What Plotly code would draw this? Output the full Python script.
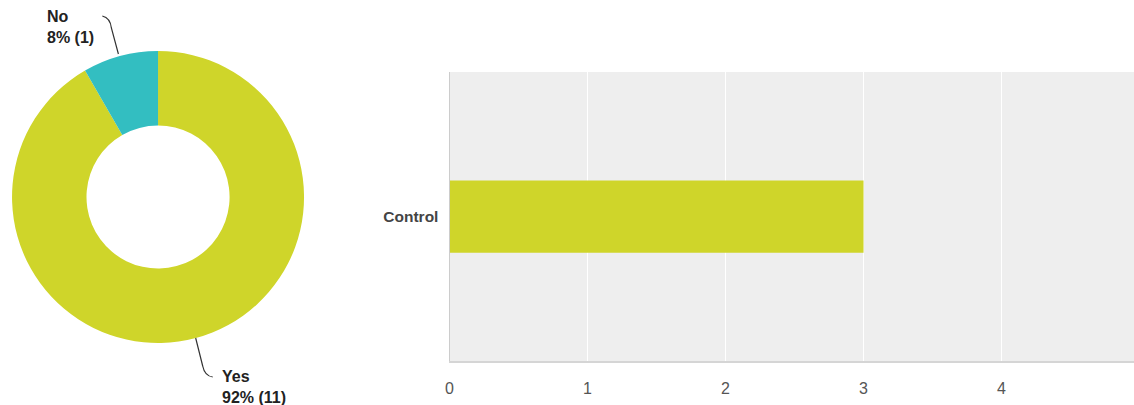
import plotly.graph_objects as go

# ---- data ----
pie_labels = ["Yes", "No"]
pie_counts = [11, 1]
pie_colors = ["#CFD52A", "#33BEC1"]

bar_categories = ["Control"]
bar_values = [3]
bar_color = "#CFD52A"
x_ticks = [0, 1, 2, 3, 4, 5]
x_max = 4.96

W, H = 1134, 405
FONT = "Arial, 'Liberation Sans', Helvetica, sans-serif"

# map target pixel positions to paper coordinates (compensates render offset)
def px(x):
    return ((x - 4) / 0.993) / W

def py(y):
    return 1 - y / H

fig = go.Figure()

fig.add_trace(go.Pie(
    labels=pie_labels,
    values=pie_counts,
    marker=dict(colors=pie_colors, line=dict(width=0)),
    hole=0.49,
    sort=False,
    direction="clockwise",
    rotation=0,
    textinfo="none",
    showlegend=False,
    domain=dict(x=[px(11.5), px(303.5)], y=[py(343), py(51)]),
))

fig.add_trace(go.Bar(
    y=bar_categories,
    x=bar_values,
    orientation="h",
    marker=dict(color=bar_color, line=dict(width=0)),
    showlegend=False,
    xaxis="x",
    yaxis="y",
))

total = sum(pie_counts)
pct = [round(100 * c / total) for c in pie_counts]
txt = {lab: f"<b>{lab}<br>{p}% ({c})</b>" for lab, p, c in zip(pie_labels, pct, pie_counts)}

fig.add_annotation(x=px(44.7), y=py(6), xref="paper", yref="paper", xanchor="left", yanchor="top",
                   text=txt["No"], showarrow=False, align="left",
                   font=dict(family=FONT, size=16, color="#222222"))
fig.add_annotation(x=px(219.7), y=py(365.5), xref="paper", yref="paper", xanchor="left", yanchor="top",
                   text=txt["Yes"], showarrow=False, align="left",
                   font=dict(family=FONT, size=16, color="#222222"))

# leader lines
fig.add_shape(type="path", xref="paper", yref="paper",
              path=f"M {px(102)},{py(16)} Q {px(110)},{py(18)} {px(111)},{py(28)} L {px(118)},{py(54)}",
              line=dict(color="#333333", width=1.2))
fig.add_shape(type="path", xref="paper", yref="paper",
              path=f"M {px(195)},{py(338)} L {px(202)},{py(366)} Q {px(204)},{py(376)} {px(212)},{py(377)}",
              line=dict(color="#333333", width=1.2))

fig.update_layout(
    width=W, height=H,
    margin=dict(l=0, r=0, t=0, b=0),
    paper_bgcolor="white",
    plot_bgcolor="#EEEEEE",
    bargap=0.75,
    font=dict(family=FONT),
    xaxis=dict(
        domain=[px(448), 1.0],
        range=[0, x_max],
        tickvals=x_ticks,
        showgrid=True, gridcolor="white", gridwidth=1,
        zeroline=False,
        showline=True, linecolor="#D5D5D5", linewidth=2,
        ticks="", ticklabelstandoff=12,
        ticklabeloverflow="allow",
        tickfont=dict(family=FONT, size=16, color="#555555"),
        fixedrange=True,
    ),
    yaxis=dict(
        domain=[py(361), py(72)],
        showgrid=False, zeroline=False,
        showline=True, linecolor="#CCCCCC", linewidth=1,
        ticks="", ticklabelstandoff=7,
        tickfont=dict(family=FONT, size=15.5, color="#444444", weight="bold"),
        fixedrange=True,
    ),
)

fig.write_html("out.html")
